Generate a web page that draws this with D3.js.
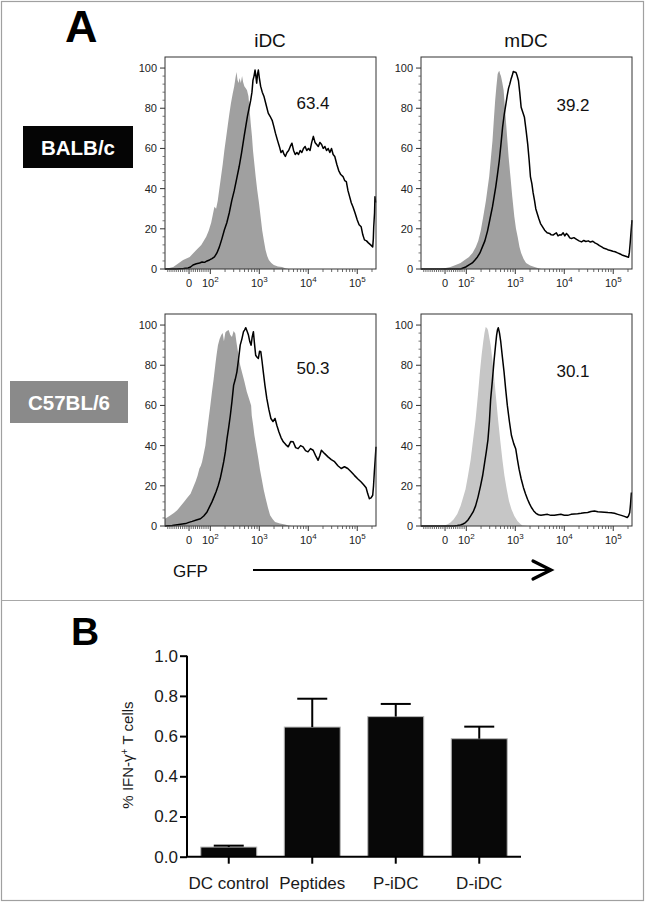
<!DOCTYPE html>
<html><head><meta charset="utf-8">
<script src="https://cdn.jsdelivr.net/npm/d3@7"></script>
<style>
body{margin:0;background:#fff}
svg{display:block}
text{font-family:"Liberation Sans",Arial,Helvetica,sans-serif}
</style>
</head><body>
<svg id="chart" width="646" height="903"></svg>
<script>
// ---------------- DATA ----------------
const columnLabels = ["iDC", "mDC"];
const rowLabels = ["BALB/c", "C57BL/6"];
const percentLabels = [["63.4", "39.2"], ["50.3", "30.1"]];
const histYTicks = [0, 20, 40, 60, 80, 100];
const gfpTickValues = [0, 100, 1000, 10000, 100000];
const gfpTickExponents = [null, 2, 3, 4, 5];

// histograms: [channel (0-1024 display channel), % of max]
const balbIdcGray = [[0,0],[40,1],[88,4.5],[120,6],[152,9.5],[176,12],[200,16],[212,19],[224,23],[232,27],[240,31],[248,30],[256,34],[264,40],[272,46],[280,52],[288,59],[296,65],[304,71],[312,77],[320,82.5],[328,87],[336,91],[342,95],[347,98],[352,94],[357,92.5],[362,95],[368,92.5],[374,96],[379,93],[385,91],[392,90],[398,89],[405,86],[410,80],[416,72.5],[422,66],[427,59],[434,52],[440,46],[448,39],[456,33],[464,26],[472,19],[480,14],[488,9.5],[496,6.5],[504,4.5],[516,3],[528,2],[548,1.3],[568,1],[584,0.4],[600,0]];
const balbIdcLine = [[0,0],[56,0],[90,0.2],[112,0.5],[124,1],[136,2],[152,2.6],[168,3],[180,3.5],[192,3.3],[204,4],[216,4.5],[228,5.2],[240,6],[252,8],[264,11],[276,15],[288,19.4],[300,23],[312,28],[324,34],[336,39],[348,45],[360,51],[372,58],[384,66],[392,71],[400,76],[408,80],[416,84],[422,88],[427,94],[432,96],[437,99],[441,96],[445,92.5],[449,97],[453,99],[458,95],[464,91],[472,88],[480,86],[490,82],[501,77.6],[510,76],[520,74],[528,71],[536,67.6],[546,64],[555,61],[563,58],[571,59],[578,57],[584,56],[592,58],[600,59],[608,61],[616,62.6],[624,59],[632,57],[640,58],[648,57],[656,59],[664,58],[672,60],[680,61],[688,59],[696,60],[704,59],[712,63],[720,66],[728,63],[736,62],[744,61],[752,63],[760,62],[768,60],[776,61],[784,59],[792,60],[800,58],[808,60],[816,57],[824,56],[834,52],[843,49],[853,47],[864,46],[872,44],[880,43.5],[888,39],[896,36],[904,33],[912,31],[922,28],[933,24.4],[942,22],[952,21],[960,17],[968,14.5],[978,14],[987,13],[998,12],[1008,11],[1011,15],[1013,21],[1017,28],[1019,36],[1022,33]];
const balbMdcGray = [[0,0],[95,0],[120,0.5],[143,1],[168,2],[192,3],[212,4.5],[233,6],[250,8],[266,11],[278,14],[290,19],[302,26],[315,34],[323,40],[331,46],[339,55],[347,64],[354,75],[360,84],[366,91],[372,97],[376,98],[380,98.7],[384,97],[388,96],[394,93],[401,89],[409,78],[417,67],[425,56],[434,46],[443,36],[453,26],[461,20],[469,16],[478,11],[486,8],[498,5],[510,3],[530,1.8],[551,1],[570,0.4],[584,0]];
const balbMdcLine = [[0,0],[192,0],[217,1],[233,2],[249,3],[262,4.5],[274,6],[286,8],[298,11],[310,14],[323,19],[335,25],[347,31],[355,36],[363,41],[371,47],[380,54],[388,62],[396,70.6],[404,77],[412,82],[418,86],[425,90],[431,92],[437,94.5],[442,96],[448,98.3],[454,98],[461,97.8],[467,96],[473,93.7],[479,88],[486,80.5],[494,78],[502,75.5],[510,69],[518,62],[525,54],[531,46],[535,44],[538,42.5],[544,38],[551,34],[557,30],[564,27.6],[572,25],[580,22.6],[590,21],[600,19.3],[612,18],[624,17.7],[632,17],[641,16.9],[649,17.5],[657,18],[665,16.5],[673,17],[681,16.9],[690,18],[698,16.5],[706,17.7],[714,16.8],[722,15.5],[730,15.2],[742,15.6],[755,14.7],[767,14],[779,13.5],[790,14.2],[800,13.7],[812,14],[822,13.4],[834,13.8],[844,13],[856,12.4],[866,11.6],[877,11],[888,10.3],[899,10],[910,9.4],[920,9.2],[931,8.8],[942,8.6],[954,8],[964,7.6],[975,7],[986,6.6],[997,6.2],[1007,5.8],[1011,8],[1015,12.7],[1019,18],[1024,24.3]];
const c57IdcGray = [[0,3.6],[14,4.5],[27,5.3],[43,6.5],[59,7.8],[76,10],[92,12],[108,14],[124,16],[136,19],[148,22],[158,25],[167,28.6],[174,30],[180,32],[188,36],[196,40],[204,47],[212,53.5],[220,60],[228,66.8],[236,73],[244,80],[250,85],[257,90],[265,93],[273,95],[280,96],[286,92],[293,96.3],[300,97],[309,97.5],[317,95],[325,94],[333,97],[341,95.8],[349,90],[357,85],[365,80],[373,76.7],[385,72],[397,66.8],[409,63],[418,60],[421,55],[428,50],[434,45],[444,39],[453,33.5],[461,28],[469,23.6],[479,18],[489,13.6],[500,9],[510,5.3],[522,3.5],[534,2],[558,1.2],[582,0.7],[600,0.2],[614,0]];
const c57IdcLine = [[0,0],[35,0.3],[68,0.8],[100,1.2],[116,1.8],[132,2.3],[152,3],[172,3.6],[188,5],[204,7],[216,9.5],[228,12],[238,14.5],[248,17],[258,20],[268,23.6],[276,27.5],[285,32],[293,37],[301,43.5],[309,49],[317,55],[325,62],[333,70],[341,73],[349,76.7],[357,83],[365,90],[373,93],[381,96.7],[386,97.5],[392,98.7],[398,97],[405,95],[411,92],[418,90],[423,94],[429,96.7],[434,91],[440,85],[447,84],[453,83.4],[459,87],[465,86.7],[471,82],[477,76.7],[485,70],[494,63.5],[504,58],[514,53.5],[524,52],[534,53.5],[543,50],[553,46.8],[563,44],[574,41.9],[586,40.5],[598,39.4],[610,42],[622,41.9],[634,39],[646,38.5],[658,40],[670,39.4],[682,37.5],[694,36.9],[706,38.5],[719,37.7],[731,35],[743,32.7],[751,35],[759,37.7],[775,36],[791,34.4],[807,33],[823,32],[839,30],[855,28.6],[871,29.5],[887,28.6],[903,27],[919,25.2],[935,23.5],[952,21.9],[964,20.5],[976,19],[984,16],[992,13.6],[1000,14],[1008,15.3],[1012,20],[1016,27],[1020,33],[1024,39.4]];
const c57MdcGray = [[0,0],[94,0],[111,0.3],[127,0.8],[143,1.8],[159,3.3],[176,6],[192,10],[204,14],[216,18.3],[228,25],[241,33],[253,43],[265,53],[276,65],[286,76.7],[294,85],[302,91.7],[308,96],[314,99],[320,98.5],[325,97.5],[331,94],[338,90],[346,83],[354,75],[364,64],[374,53],[384,43],[395,33],[405,25],[416,18.3],[427,12.5],[439,8.3],[453,5],[468,2.5],[480,1.2],[492,0.3],[517,0]];
const c57MdcLine = [[0,0],[159,0],[176,0.2],[192,0.5],[204,1],[216,1.7],[228,3],[241,5],[253,7],[265,10],[277,14.5],[289,20],[299,25],[309,31.7],[317,37],[325,43],[332,52],[338,63],[346,72],[354,81.7],[361,89],[367,95],[371,97.5],[375,98.7],[381,96],[387,91.7],[395,84],[403,76.7],[411,68],[419,60],[429,52],[439,45],[450,41],[460,38.3],[468,33],[476,28.3],[486,23.5],[497,19.2],[507,16],[517,13.3],[527,11],[536,9.2],[547,7.5],[558,6.3],[570,5.6],[582,5.3],[598,5.6],[614,5.8],[630,5.3],[647,5.3],[663,5.6],[679,5.8],[695,5.4],[712,5.3],[728,5.8],[744,6],[760,6.1],[777,6.3],[793,6.6],[809,6.7],[825,7.2],[842,7.5],[858,7.1],[874,7],[890,6.9],[907,6.7],[923,6.6],[939,6.3],[955,5.8],[972,5.3],[987,4.8],[1001,4.2],[1007,5],[1013,6.7],[1017,11],[1021,16.7]];

const histograms = [[
  {gray: balbIdcGray, line: balbIdcLine},
  {gray: balbMdcGray, line: balbMdcLine}
], [
  {gray: c57IdcGray, line: c57IdcLine},
  {gray: c57MdcGray, line: c57MdcLine}
]];

const categories = ["DC control", "Peptides", "P-iDC", "D-iDC"];
const ifnMeans = [0.048, 0.645, 0.697, 0.587];
const ifnErrors = [0.007, 0.141, 0.063, 0.060];
const barYTicks = [0, 0.2, 0.4, 0.6, 0.8, 1.0];

// ---------------- LAYOUT ----------------
const svg = d3.select("#chart");
const FONT = '"Liberation Sans",Arial,Helvetica,sans-serif';

// frame
svg.append("rect").attr("x", 1.5).attr("y", 1.5).attr("width", 642).attr("height", 899)
  .attr("fill", "none").attr("stroke", "#a0a0a0").attr("stroke-width", 1.2);
svg.append("line").attr("x1", 1.5).attr("x2", 643.5).attr("y1", 600.5).attr("y2", 600.5)
  .attr("stroke", "#a8a8a8").attr("stroke-width", 1.2);

// panel letters
svg.append("text").attr("x", 65).attr("y", 42).attr("font-size", 45).attr("font-weight", "bold")
  .attr("fill", "#000").text("A");
svg.append("text").attr("x", 71).attr("y", 645).attr("font-size", 39).attr("font-weight", "bold")
  .attr("fill", "#000").text("B");

// ---------- Panel A: histograms ----------
const colX = [165, 421];
const rowY = [57, 314];
const PW = 211, PH = 212;
const labelOffsets = [[[148, 52], [152, 54]], [[148, 60], [152, 63]]];
const grayColors = [["#a0a0a0", "#a0a0a0"], ["#a0a0a0", "#c6c6c6"]];

const LN10 = Math.LN10;
function T(v) { return v < 100 ? v / (100 * LN10) : Math.log10(v) - 2 + 1 / LN10; }
const gfpMin = -113, gfpMax = 241500;

const chan = d3.scaleLinear().domain([0, 1024]).range([0, PW]);
const gfpPos = d3.scaleLinear().domain([T(gfpMin), T(gfpMax)]).range([0, PW]);
const yHist = d3.scaleLinear().domain([0, 105.5]).range([PH, 0]);

// minor ticks for GFP axis
const gfpMinor = [];
for (let v = -100; v <= 90; v += 10) if (v !== 0) gfpMinor.push(v);
for (let k = 2; k <= 5; k++) for (let m = 2; m <= 9; m++) { const v = m * Math.pow(10, k); if (v < gfpMax) gfpMinor.push(v); }
const yMinor = d3.range(0, 101, 4).filter(v => v % 20 !== 0);

columnLabels.forEach((lab, c) => {
  svg.append("text").attr("x", colX[c] + 105).attr("y", 47).attr("text-anchor", "middle")
    .attr("font-size", 19).attr("fill", "#111").text(lab);
});

rowLabels.forEach((lab, r) => {
  const bx = r === 0 ? 23 : 10, by = r === 0 ? 126 : 381, bw = r === 0 ? 110 : 118, bh = 42;
  svg.append("rect").attr("x", bx).attr("y", by).attr("width", bw).attr("height", bh)
    .attr("fill", r === 0 ? "#050505" : "#8a8a8a");
  svg.append("text").attr("x", bx + bw / 2).attr("y", by + 29).attr("text-anchor", "middle")
    .attr("font-size", 20.5).attr("font-weight", "bold").attr("fill", "#fff").text(lab);
});

const area = d3.area().x(d => chan(d[0])).y0(PH).y1(d => yHist(d[1])).curve(d3.curveLinear);
const line = d3.line().x(d => chan(d[0])).y(d => yHist(d[1])).curve(d3.curveLinear);

for (let r = 0; r < 2; r++) for (let c = 0; c < 2; c++) {
  const g = svg.append("g").attr("transform", `translate(${colX[c]},${rowY[r]})`);
  const h = histograms[r][c];
  g.append("path").datum(h.gray).attr("d", area).attr("fill", grayColors[r][c]);
  g.append("path").datum(h.line).attr("d", line).attr("fill", "none")
    .attr("stroke", "#000").attr("stroke-width", 1.5).attr("stroke-linejoin", "round");
  g.append("rect").attr("x", 0).attr("y", 0).attr("width", PW).attr("height", PH)
    .attr("fill", "none").attr("stroke", "#333").attr("stroke-width", 1);

  // y axis ticks
  g.selectAll(".ymaj").data(histYTicks).enter().append("line")
    .attr("x1", -5).attr("x2", 0).attr("y1", d => yHist(d)).attr("y2", d => yHist(d))
    .attr("stroke", "#333").attr("stroke-width", 1);
  g.selectAll(".ymin").data(yMinor).enter().append("line")
    .attr("x1", -2.5).attr("x2", 0).attr("y1", d => yHist(d)).attr("y2", d => yHist(d))
    .attr("stroke", "#555").attr("stroke-width", 0.8);
  g.selectAll(".ylab").data(histYTicks).enter().append("text")
    .attr("x", -8).attr("y", d => yHist(d) + 4).attr("text-anchor", "end")
    .attr("font-size", 11).attr("fill", "#222").text(d => d);

  // x axis ticks
  g.selectAll(".xmaj").data(gfpTickValues).enter().append("line")
    .attr("x1", d => gfpPos(T(d))).attr("x2", d => gfpPos(T(d)))
    .attr("y1", PH).attr("y2", PH + 5).attr("stroke", "#333").attr("stroke-width", 1);
  g.selectAll(".xmin").data(gfpMinor).enter().append("line")
    .attr("x1", d => gfpPos(T(d))).attr("x2", d => gfpPos(T(d)))
    .attr("y1", PH).attr("y2", PH + 3).attr("stroke", "#444").attr("stroke-width", 0.8);
  gfpTickValues.forEach((v, i) => {
    const t = g.append("text").attr("x", gfpPos(T(v))).attr("y", PH + 18)
      .attr("text-anchor", "middle").attr("font-size", 11).attr("fill", "#222");
    if (gfpTickExponents[i] === null) t.text("0");
    else {
      t.append("tspan").text("10");
      t.append("tspan").attr("dy", -5).attr("font-size", 8).text(gfpTickExponents[i]);
    }
  });

  g.append("text").attr("x", labelOffsets[r][c][0]).attr("y", labelOffsets[r][c][1])
    .attr("text-anchor", "middle").attr("font-size", 17).attr("fill", "#111")
    .text(percentLabels[r][c]);
}

// GFP label + arrow
svg.append("text").attr("x", 173).attr("y", 577).attr("font-size", 17).attr("fill", "#111").text("GFP");
svg.append("line").attr("x1", 253).attr("x2", 551).attr("y1", 570).attr("y2", 570)
  .attr("stroke", "#000").attr("stroke-width", 2);
svg.append("path").attr("d", "M533,561 L551,570 L533,579").attr("fill", "none")
  .attr("stroke", "#000").attr("stroke-width", 3.2).attr("stroke-linecap", "round").attr("stroke-linejoin", "miter");

// ---------- Panel B: bar chart ----------
const bx = d3.scaleBand().domain(categories).range([187, 521]).paddingInner(0.33).paddingOuter(0.165);
const by = d3.scaleLinear().domain([0, 1]).range([856.7, 655.7]);

const bars = svg.append("g");
bars.selectAll("rect").data(categories).enter().append("rect")
  .attr("x", d => bx(d)).attr("width", bx.bandwidth())
  .attr("y", (d, i) => by(ifnMeans[i])).attr("height", (d, i) => by(0) - by(ifnMeans[i]))
  .attr("fill", "#080808").attr("stroke", "#b8b8b8").attr("stroke-width", 1);

// error bars
categories.forEach((cat, i) => {
  const cx = bx(cat) + bx.bandwidth() / 2;
  const top = by(ifnMeans[i] + ifnErrors[i]);
  bars.append("line").attr("x1", cx).attr("x2", cx).attr("y1", by(ifnMeans[i])).attr("y2", top)
    .attr("stroke", "#000").attr("stroke-width", 2);
  bars.append("line").attr("x1", cx - 15).attr("x2", cx + 15).attr("y1", top).attr("y2", top)
    .attr("stroke", "#000").attr("stroke-width", 2);
});

const yAxisB = svg.append("g").attr("transform", "translate(187,0)")
  .call(d3.axisLeft(by).tickValues(barYTicks).tickFormat(d3.format(".1f")).tickSize(7).tickPadding(2));
yAxisB.select(".domain").attr("stroke-width", 2).attr("d", `M0,${by(1)}H0V${by(0)}`);
yAxisB.selectAll(".tick line").attr("stroke-width", 2);
yAxisB.selectAll(".tick text").attr("font-size", 17).attr("font-family", FONT).attr("fill", "#1a1a1a");

const xAxisB = svg.append("g").attr("transform", `translate(0,${by(0)})`)
  .call(d3.axisBottom(bx).tickSize(7).tickPadding(13));
xAxisB.select(".domain").attr("stroke-width", 2).attr("d", `M186,0H521`);
xAxisB.selectAll(".tick line").attr("stroke-width", 2);
xAxisB.selectAll(".tick text").attr("font-size", 17).attr("font-family", FONT).attr("fill", "#1a1a1a");

// y label
const yl = svg.append("text").attr("transform", "translate(133,755) rotate(-90)")
  .attr("text-anchor", "middle").attr("font-size", 15).attr("fill", "#1a1a1a");
yl.append("tspan").text("% IFN-γ");
yl.append("tspan").attr("dy", -5).attr("font-size", 10).text("+");
yl.append("tspan").attr("dy", 5).text(" T cells");
</script>
</body></html>
